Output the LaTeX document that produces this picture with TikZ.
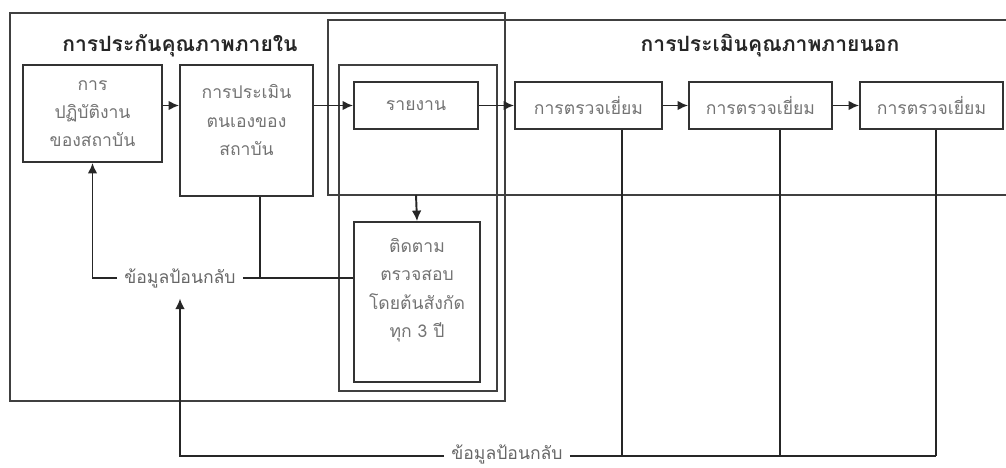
\documentclass[tikz,border=0pt]{standalone}
\usepackage{fontspec}
\newfontfamily\thaifont[Script=Thai]{Loma}
\usetikzlibrary{arrows.meta}
\begin{document}
\begin{tikzpicture}[x=0.02cm,y=-0.02cm,
      font=\thaifont\fontsize{10}{16}\selectfont,
      frame/.style={draw=black!75,line width=1.2pt},
      stage/.style={draw=black!80,line width=1pt,align=center,text=black!55,inner sep=0pt},
      link/.style={draw=black!85,line width=1.1pt},
      flow/.style={link,-{Latex[length=6pt,width=5.5pt]}},
      fbtext/.style={text=black!60,inner xsep=4pt,inner ysep=0.5pt},
      head/.style={font=\thaifont\bfseries\fontsize{12}{15}\selectfont,text=black!85}]
      \useasboundingbox (0,0) rectangle (1006,467);
      \draw[frame] (10,13) rectangle (505,401);
      \draw[frame] (1006,20) -- (328,20) -- (328,195) -- (1006,195);
      \draw[frame] (339,65) rectangle (497,391);
      \coordinate (extBottom) at (328,195);
      \path (180,46) node[head] (titleIn) {การประกันคุณภาพภายใน};
      \path (770,46) node[head] (titleOut) {การประเมินคุณภาพภายนอก};
      \path (92.5,113.5) node[stage,minimum width=2.78cm,minimum height=1.94cm] (practice) {การ\\ปฏิบัติงาน\\ของสถาบัน};
      \path (246.5,130.5) node[stage,minimum width=2.66cm,minimum height=2.62cm] (selfAssess) {การประเมิน\\ตนเองของ\\สถาบัน\\[-4pt]\mbox{}};
      \path (416,105.5) node[stage,minimum width=2.48cm,minimum height=0.94cm] (report) {รายงาน};
      \path (588.5,105.5) node[stage,minimum width=2.94cm,minimum height=0.94cm] (visitA) {การตรวจเยี่ยม};
      \path (760.5,105.5) node[stage,minimum width=2.86cm,minimum height=0.94cm] (visitB) {การตรวจเยี่ยม};
      \path (931.5,105.5) node[stage,minimum width=2.86cm,minimum height=0.94cm] (visitC) {การตรวจเยี่ยม};
      \path (417,302) node[stage,minimum width=2.52cm,minimum height=3.2cm] (follow) {ติดตาม\\ตรวจสอบ\\โดยต้นสังกัด\\ทุก 3 ปี\\\mbox{}};
      \path (180,278) node[fbtext,inner ysep=6pt] (fbInner) {ข้อมูลป้อนกลับ};
      \path (507,454) node[fbtext] (fbOuter) {ข้อมูลป้อนกลับ};
      \coordinate (jSelf) at (260,278);
      \coordinate (jA) at (622,456);
      \coordinate (jB) at (780,456);
      \coordinate (jC) at (936,456);
      \draw[flow] (practice.east |- report.west) -- (selfAssess.west |- report.west);
      \draw[flow] (selfAssess.east |- report.west) -- (report.west);
      \draw[flow] (report.east) -- (visitA.west);
      \draw[flow] (visitA.east) -- (visitB.west);
      \draw[flow] (visitB.east) -- (visitC.west);
      \draw[flow] (report.south |- extBottom) -- (follow.north);
      \draw[link] (selfAssess.south -| jSelf) -- (jSelf);
      \draw[link] (fbInner.east) -- (fbInner.east -| follow.west);
      \draw[flow] (fbInner.west) -| (practice.south);
      \draw[link] (visitA.south -| jA) -- (jA);
      \draw[link] (visitB.south -| jB) -- (jB);
      \draw[link] (visitC.south -| jC) -- (jC);
      \draw[link] (fbOuter.east |- jA) -- (jC);
      \draw[flow] (fbOuter.west |- jA) -| (fbInner.south);
\end{tikzpicture}
\end{document}
